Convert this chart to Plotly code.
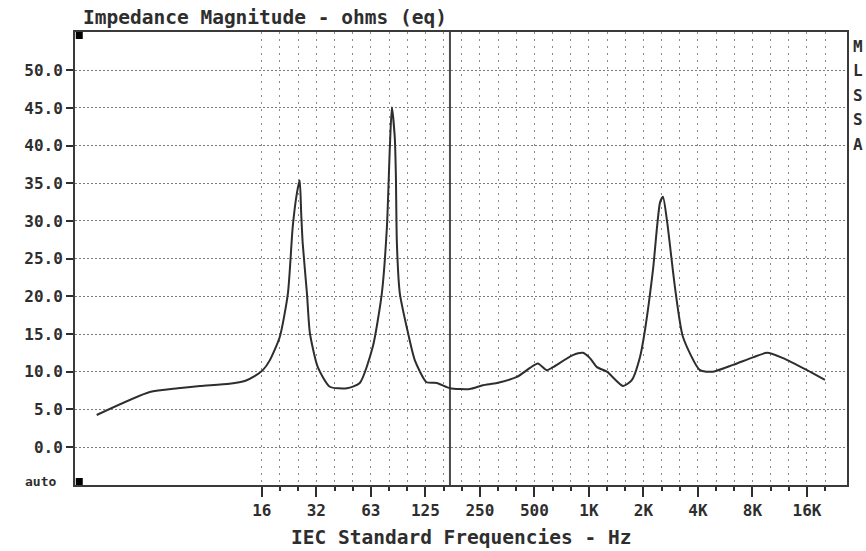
import math
import plotly.graph_objects as go

# ---------------- data ----------------
freq_hz = [1.96, 3.85, 5.5, 7.3, 10.6, 13.0, 14.6, 16.2, 17.7, 20.1, 22.3, 23.7, 25.0,
           25.9, 26.4, 26.9, 28.4, 29.5, 32.6, 38.0, 47.2, 55.6, 65.6, 73.6, 78.5,
           81.5, 83.6, 86.8, 88.0, 89.1, 92.5, 101, 112, 130, 148, 175, 225, 266,
           318, 410, 484, 535, 600, 648, 835, 949, 1037, 1134, 1287, 1578, 1770,
           1959, 2088, 2312, 2527, 2625, 2761, 3058, 3386, 4202, 4957, 6393, 8243,
           9851, 12077, 16384, 20590]
impedance_ohm = [4.25, 7.3, 7.8, 8.1, 8.4, 8.8, 9.4, 10.2, 11.5, 14.6, 20.4, 29.2, 33.7,
                 35.4, 31.0, 27.1, 20.4, 15.1, 10.6, 8.0, 7.8, 8.5, 13.3, 20.4, 29.2,
                 39.8, 45.1, 41.0, 36.0, 27.1, 20.4, 15.9, 11.5, 8.6, 8.5, 7.8, 7.7, 8.2,
                 8.5, 9.3, 10.5, 11.1, 10.2, 10.6, 12.2, 12.5, 11.8, 10.6, 10.0, 8.1, 8.9,
                 11.9, 15.5, 23.5, 32.4, 33.2, 30.1, 21.2, 14.6, 10.2, 10.0, 10.9, 11.9,
                 12.5, 11.8, 10.2, 8.9]

octave_ticks = [16, 32, 64, 128, 256, 512, 1024, 2048, 4096, 8192, 16384]
octave_labels = ["16", "32", "63", "125", "250", "500", "1K", "2K", "4K", "8K", "16K"]
third_octave_ticks = [16 * 2 ** (k / 3) for k in range(32)]

y_ticks = [0, 5, 10, 15, 20, 25, 30, 35, 40, 45, 50]
y_labels = ["0.0", "5.0", "10.0", "15.0", "20.0", "25.0", "30.0", "35.0", "40.0", "45.0", "50.0"]

cursor_hz = 175
x_range_hz = [1.488, 27250]
y_range = [-5.04, 55.08]

title_text = "Impedance Magnitude - ohms (eq)"
x_title_text = "IEC Standard Frequencies - Hz"
side_letters = ["M", "L", "S", "S", "A"]

# ---------------- styles ----------------
FONT = "DejaVu Sans Mono"
INK = "#2e2e2e"
GRID = "#8a8a8a"

fig = go.Figure()

fig.add_trace(go.Scatter(
    x=[cursor_hz, cursor_hz], y=y_range, mode="lines",
    line=dict(color="#4a4a4a", width=2), hoverinfo="skip", showlegend=False))

fig.add_trace(go.Scatter(
    x=freq_hz, y=impedance_ohm, mode="lines", line_shape="spline",
    line=dict(color=INK, width=2, smoothing=0.6), showlegend=False))

fig.update_layout(
    width=866, height=551,
    margin=dict(l=75, r=19, t=32, b=66),
    plot_bgcolor="white", paper_bgcolor="white",
    showlegend=False,
    font=dict(family=FONT, color=INK),
    title=dict(text=title_text, x=83 / 866, xanchor="left", y=1 - 17 / 551, yanchor="middle",
               font=dict(family=FONT, size=19.5, weight="bold", color=INK)),
)

fig.update_xaxes(
    type="log",
    range=[math.log10(x_range_hz[0]), math.log10(x_range_hz[1])],
    tickmode="array", tickvals=octave_ticks, ticktext=octave_labels,
    ticks="outside", ticklen=10, tickwidth=2, tickcolor=INK,
    tickfont=dict(family=FONT, size=16, weight="bold", color=INK),
    showgrid=True, gridcolor=GRID, griddash="2px,5px", gridwidth=1,
    minor=dict(tickmode="array", tickvals=third_octave_ticks, ticks="outside", ticklen=4,
               tickwidth=1.5, tickcolor=INK, showgrid=True, gridcolor=GRID,
               griddash="2px,5px", gridwidth=1),
    showline=True, mirror=True, linecolor="#3a3a3a", linewidth=2,
    zeroline=False,
)

fig.update_yaxes(
    range=y_range,
    tickmode="array", tickvals=y_ticks, ticktext=y_labels,
    ticks="outside", ticklen=7, tickwidth=2, tickcolor=INK,
    tickfont=dict(family=FONT, size=16, weight="bold", color=INK),
    showgrid=True, gridcolor="#7a7a7a", griddash="2px,2px", gridwidth=1,
    showline=True, mirror=True, linecolor="#3a3a3a", linewidth=2,
    zeroline=False,
)

# x-axis title
fig.add_annotation(text=x_title_text, xref="paper", yref="paper", x=0.5, y=-52 / 453,
                   xanchor="center", yanchor="middle", showarrow=False,
                   font=dict(family=FONT, size=19.5, weight="bold", color=INK))

# "auto" label at the foot of the value axis
fig.add_annotation(text="auto", xref="paper", yref="paper", x=-17 / 772, y=4 / 453,
                   xanchor="right", yanchor="middle", showarrow=False,
                   font=dict(family=FONT, size=13, weight="bold", color=INK))

# vertical MLSSA letters on the right
for i, ch in enumerate(side_letters):
    fig.add_annotation(text=ch, xref="paper", yref="paper", x=1 + 11 / 772,
                       y=1 + (32 - 46 - 24.5 * i) / 453,
                       xanchor="center", yanchor="middle", showarrow=False,
                       font=dict(family=FONT, size=16, weight="bold", color=INK))

# small black corner markers
sq_w, sq_h = 7 / 772, 7 / 453
fig.add_shape(type="rect", xref="paper", yref="paper", x0=0.001, x1=0.001 + sq_w,
              y0=1 - sq_h, y1=1, fillcolor="black", line=dict(width=0))
fig.add_shape(type="rect", xref="paper", yref="paper", x0=0.001, x1=0.001 + sq_w,
              y0=0, y1=sq_h, fillcolor="black", line=dict(width=0))

fig.write_html("out.html", config={"displayModeBar": False},
               post_script="document.body.style.margin='0';document.body.style.padding='0';")
